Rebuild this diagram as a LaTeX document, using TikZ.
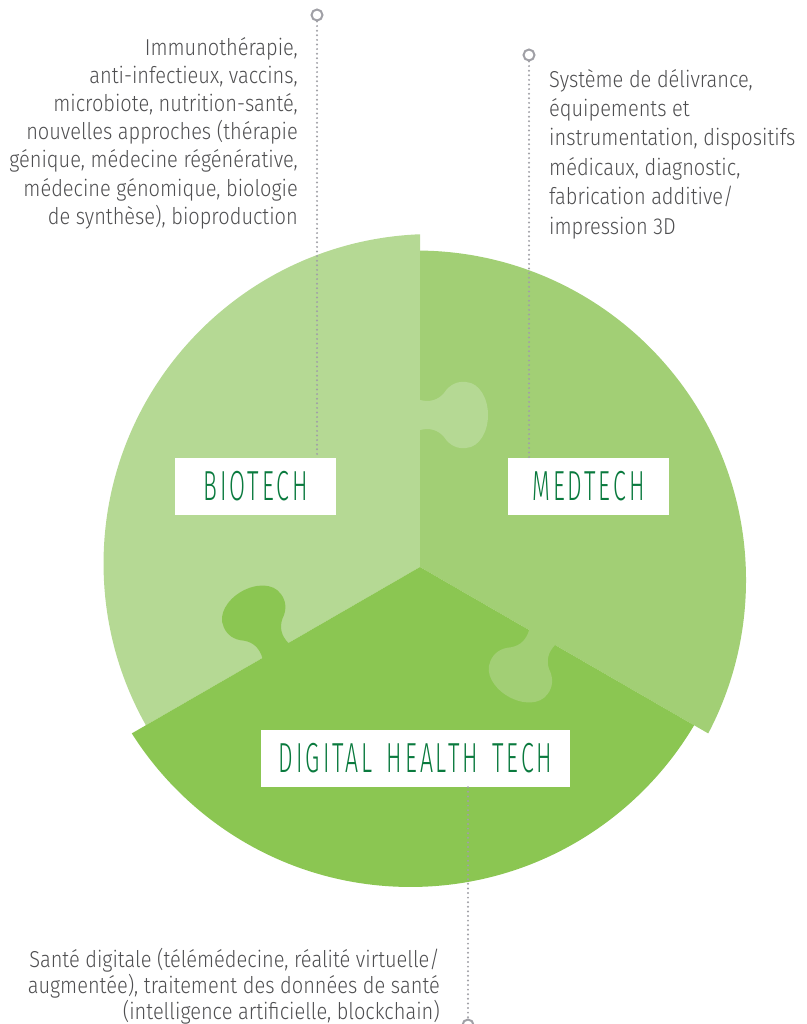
\documentclass[tikz,border=0pt]{standalone}
\usepackage{fontspec}
\setmainfont{Fira Sans Light}[FakeStretch=0.87]
\newfontfamily\labelfont{Fira Sans Light}[FakeStretch=0.55, LetterSpace=7, WordSpace=1.5]
\definecolor{biogreen}{HTML}{B5D994}
\definecolor{medgreen}{HTML}{A2CF75}
\definecolor{diggreen}{HTML}{8BC652}
\definecolor{labelgreen}{HTML}{0A7A3E}
\definecolor{textgray}{HTML}{4E4E50}
\definecolor{dotgray}{HTML}{A0A0A6}
\tikzset{
  tag/.style={fill=white, minimum height=57, inner sep=0, text=labelgreen,
    font=\labelfont\fontsize{42}{42}\selectfont},
  dotline/.style={draw=dotgray, line width=2.2, line cap=round, dash pattern=on 0pt off 4.6pt},
  pin/.style={circle, draw=dotgray, line width=2, fill=white, minimum size=11, inner sep=0},
  blurb/.style={text=textgray, inner sep=0, font=\fontsize{23}{28.2}\selectfont},
  pics/knob/.style={code={
    \fill[#1] (-3,-15) -- (0,-15) .. controls (10,-12.5) and (18,-15) .. (24,-22)
      .. controls (30,-31) and (38,-34) .. (46,-33) .. controls (60,-32) and (68,-16) .. (68,0)
      .. controls (68,16) and (60,32) .. (46,33) .. controls (38,34) and (30,31) .. (24,22)
      .. controls (18,15) and (10,12.5) .. (0,15) -- (-3,15) -- cycle;
  }}
}

\begin{document}
\begin{tikzpicture}[x=1pt, y=1pt]
\useasboundingbox (0,0) rectangle (806,-1024);
\clip (0,0) rectangle (806,-1024);

% the three puzzle pieces
\begin{scope}[shift={(420,-567)}]
  \begin{scope}
    \clip (0,0) -- (90:700) -- (150:700) -- (210:700) -- cycle;
    \fill[biogreen] (15:13.5) circle (329.5);
  \end{scope}
  \begin{scope}
    \clip (0,0) -- (90:700) -- (30:700) -- (-30:700) -- cycle;
    \fill[medgreen] (-105:13.5) circle (329.5);
  \end{scope}
  \begin{scope}
    \clip (0,0) -- (210:700) -- (270:700) -- (330:700) -- cycle;
    \fill[diggreen] (135:13.5) circle (329.5);
  \end{scope}
  % tabs
  \pic[rotate=0] at (90:152) {knob=biogreen};
  \pic[rotate=-120] at (-30:141) {knob=medgreen};
  \pic[rotate=120] at (210:167) {knob=diggreen};
\end{scope}

% pins and dotted leaders
\node[pin] (biopin) at (317,-15) {};
\node[pin] (medpin) at (529,-55) {};
\node[pin] (digpin) at (468,-1025) {};

\node[tag, minimum width=161] (biotech) at (255.5,-486.5) {BIOTECH};
\node[tag, minimum width=161] (medtech) at (588.5,-486.5) {MEDTECH};
\node[tag, minimum width=309] (digital) at (415.5,-758.5) {DIGITAL HEALTH TECH};

\draw[dotline] (biopin.south) -- (biopin.south |- biotech.north);
\draw[dotline] (medpin.south) -- (medpin.south |- medtech.north);
\draw[dotline] (digpin.north |- digital.south) -- (digpin.north);

% descriptions
\node[blurb, align=right, anchor=north east] (biotext) at (298,-37) {Immunothérapie,\\
  anti-infectieux, vaccins,\\
  microbiote, nutrition-santé,\\
  nouvelles approches (thérapie\\
  génique, médecine régénérative,\\
  médecine génomique, biologie\\
  de synthèse), bioproduction};
\node[blurb, align=left, anchor=north west, font=\fontsize{23}{29.4}\selectfont] (medtext) at (549,-69) {Système de délivrance,\\
  équipements et\\
  instrumentation, dispositifs\\
  médicaux, diagnostic,\\
  fabrication additive/\\
  impression 3D};
\node[blurb, align=right, anchor=north east, font=\fontsize{23}{26}\selectfont] (digtext) at (440,-948) {Santé digitale (télémédecine, réalité virtuelle/\\
  augmentée), traitement des données de santé\\
  (intelligence artificielle, blockchain)};
\end{tikzpicture}
\end{document}
